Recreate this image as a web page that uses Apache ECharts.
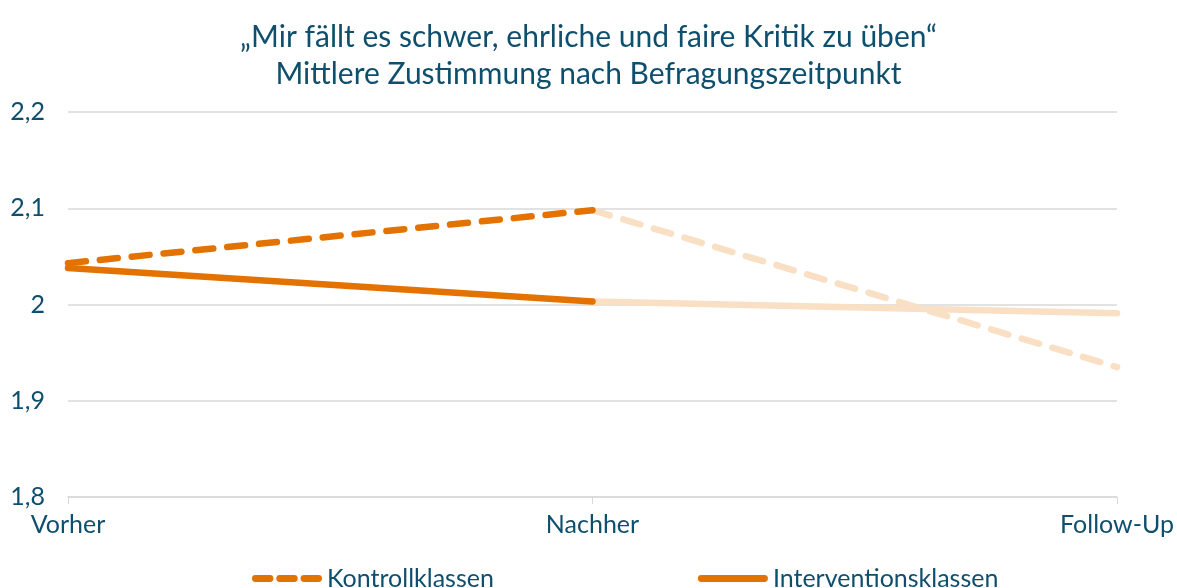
<!DOCTYPE html>
<html>
<head>
<meta charset="utf-8">
<script src="https://cdn.jsdelivr.net/npm/echarts@6/dist/echarts.min.js"></script>
<style>
  html, body { margin: 0; padding: 0; background: #fff; }
  #main { width: 1177px; height: 588px; }
</style>
</head>
<body>
<div id="main"></div>
<script>
  // Werte
  var categories = ['Vorher', 'Nachher', 'Follow-Up'];
  var kontrollklassen = [2.043, 2.098, 1.935];
  var interventionsklassen = [2.038, 2.003, 1.991];
  var yTicks = [1.8, 1.9, 2.0, 2.1, 2.2];

  var dark = '#e37200';
  var light = '#f9dfc4';
  var textColor = '#0f4f6e';
  var font = 'Lato';

  // Legenden-Symbole: drei Striche bzw. ein durchgehender Balken
  var dashIcon = 'path://M3.5,0 H18.5 A3.5,3.5 0 0 1 18.5,7 H3.5 A3.5,3.5 0 0 1 3.5,0 Z ' +
    'M28.5,0 H43.5 A3.5,3.5 0 0 1 43.5,7 H28.5 A3.5,3.5 0 0 1 28.5,0 Z ' +
    'M53.5,0 H68.5 A3.5,3.5 0 0 1 68.5,7 H53.5 A3.5,3.5 0 0 1 53.5,0 Z';
  var solidIcon = 'path://M3.5,0 H68.5 A3.5,3.5 0 0 1 68.5,7 H3.5 A3.5,3.5 0 0 1 3.5,0 Z';

  // erster Abschnitt kräftig, zweiter Abschnitt blass
  function firstPart(arr) { return [arr[0], arr[1], null]; }
  function secondPart(arr) { return [null, arr[1], arr[2]]; }

  var myChart = echarts.init(document.getElementById('main'));
  myChart.setOption({
    animation: false,
    textStyle: { fontFamily: font },
    title: {
      text: '„Mir fällt es schwer, ehrliche und faire Kritik zu üben“\nMittlere Zustimmung nach Befragungszeitpunkt',
      left: 'center',
      top: 14,
      textStyle: {
        color: textColor,
        fontFamily: font,
        fontWeight: 'normal',
        fontSize: 30,
        lineHeight: 37
      }
    },
    legend: {
      top: 561,
      left: 247,
      itemWidth: 70,
      itemHeight: 7,
      itemGap: 204,
      itemStyle: { color: dark, borderWidth: 0 },
      data: [
        { name: 'Kontrollklassen', icon: dashIcon },
        { name: 'Interventionsklassen', icon: solidIcon }
      ],
      textStyle: { color: textColor, fontSize: 25, fontFamily: font }
    },
    grid: { left: 68, right: 59, top: 112, bottom: 91 },
    xAxis: {
      type: 'category',
      data: categories,
      boundaryGap: false,
      axisLine: { lineStyle: { color: '#d9d9d9', width: 1.5 } },
      axisTick: { show: true, length: 7, lineStyle: { color: '#d9d9d9' } },
      axisLabel: { color: textColor, fontSize: 25, margin: 15 }
    },
    yAxis: {
      type: 'value',
      min: yTicks[0],
      max: yTicks[yTicks.length - 1],
      interval: 0.1,
      axisLine: { show: false },
      axisTick: { show: false },
      splitLine: { lineStyle: { color: '#d9d9d9', width: 1.5 } },
      axisLabel: {
        color: textColor,
        fontSize: 25,
        margin: 23,
        formatter: function (v) {
          return String(Math.round(v * 10) / 10).replace('.', ',');
        }
      }
    },
    series: [
      {
        name: 'Kontrollklassen (Follow-Up)',
        type: 'line',
        data: secondPart(kontrollklassen),
        symbol: 'none',
        lineStyle: { color: light, width: 6.5, type: [18, 14], cap: 'round' },
        z: 1
      },
      {
        name: 'Interventionsklassen (Follow-Up)',
        type: 'line',
        data: secondPart(interventionsklassen),
        symbol: 'none',
        lineStyle: { color: light, width: 6.5, cap: 'round' },
        z: 1
      },
      {
        name: 'Kontrollklassen',
        type: 'line',
        data: firstPart(kontrollklassen),
        symbol: 'none',
        color: dark,
        lineStyle: { color: dark, width: 6.5, type: [18, 14], cap: 'round' },
        z: 3
      },
      {
        name: 'Interventionsklassen',
        type: 'line',
        data: firstPart(interventionsklassen),
        symbol: 'none',
        color: dark,
        lineStyle: { color: dark, width: 6.5, cap: 'round' },
        z: 2
      }
    ]
  });
</script>
</body>
</html>
